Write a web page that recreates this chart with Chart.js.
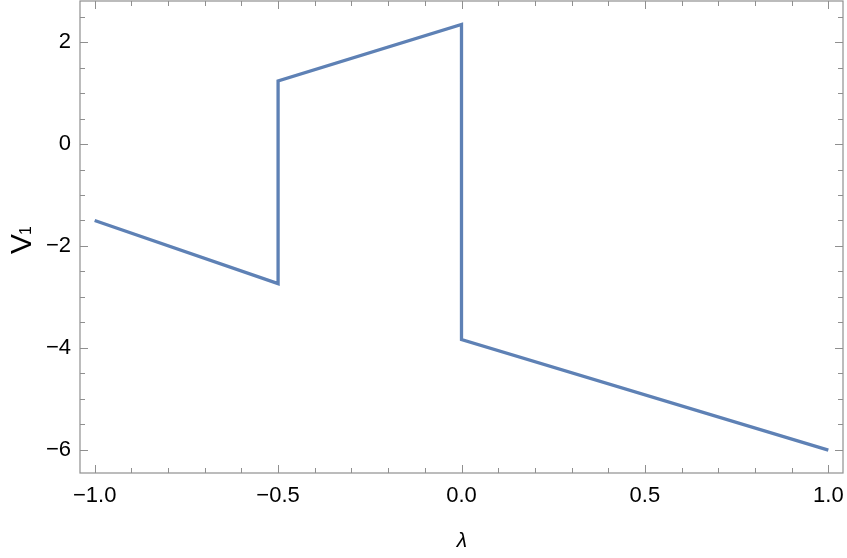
<!DOCTYPE html>
<html>
<head>
<meta charset="utf-8">
<script src="https://cdn.jsdelivr.net/npm/chart.js@4"></script>
<style>
  html, body { margin: 0; padding: 0; background: #fff; }
  #wrap { width: 847px; height: 558px; }
</style>
</head>
<body>
<div id="wrap"><canvas id="chart" width="847" height="558"></canvas></div>
<script>
// Piecewise curve V1(lambda)
const lambdaVals = [-1.0, -0.5, -0.5, 0.0, 0.0, 1.0];
const v1Vals = [-1.50, -2.74, 1.24, 2.35, -3.84, -6.01];

// Axes
const xTicks = [-1.0, -0.5, 0.0, 0.5, 1.0];
const yTicks = [-6, -4, -2, 0, 2];
const xRange = [-1.04, 1.04];
const yRange = [-6.46, 2.81];
const xMinorStep = 0.1;
const yMinorStep = 0.5;

const frameColor = "#8f8f8f";
const lineColor = "#5e81b5";
const font = "'Liberation Sans', Arial, sans-serif";

function fmt(v, digits) {
  const s = v.toFixed(digits);
  return v < 0 ? "\u2212" + s.slice(1) : s;
}

// Frame with inward ticks on all four sides, plus axis labels
const framePlugin = {
  id: "frame",
  afterDraw(chart) {
    const { ctx, chartArea: a, scales } = chart;
    const xs = scales.x, ys = scales.y;
    ctx.save();
    ctx.strokeStyle = frameColor;
    ctx.lineWidth = 1.2;
    ctx.strokeRect(a.left, a.top, a.right - a.left, a.bottom - a.top);

    const tick = (x1, y1, x2, y2) => {
      ctx.beginPath();
      ctx.moveTo(x1, y1);
      ctx.lineTo(x2, y2);
      ctx.stroke();
    };
    const isMajor = (v, list) => list.some(t => Math.abs(t - v) < 1e-6);

    ctx.lineWidth = 1;
    for (let i = Math.ceil(xRange[0] / xMinorStep); i * xMinorStep <= xRange[1] + 1e-9; i++) {
      const v = i * xMinorStep;
      const len = isMajor(v, xTicks) ? 8 : 5;
      const px = Math.round(xs.getPixelForValue(v)) + 0.5;
      tick(px, a.bottom, px, a.bottom - len);
      tick(px, a.top, px, a.top + len);
    }
    for (let i = Math.ceil(yRange[0] / yMinorStep); i * yMinorStep <= yRange[1] + 1e-9; i++) {
      const v = i * yMinorStep;
      const len = isMajor(v, yTicks) ? 8 : 5;
      const py = Math.round(ys.getPixelForValue(v)) + 0.5;
      tick(a.left, py, a.left + len, py);
      tick(a.right, py, a.right - len, py);
    }

    // x label
    ctx.fillStyle = "#000";
    ctx.font = "italic 21px " + font;
    ctx.textAlign = "center";
    ctx.textBaseline = "alphabetic";
    ctx.fillText("\u03bb", (a.left + a.right) / 2 + 0.5, 547);

    // y label V_1, rotated
    ctx.translate(31, 254);
    ctx.rotate(-Math.PI / 2);
    ctx.textAlign = "left";
    ctx.font = "30px " + font;
    ctx.fillText("V", 0, 0);
    const w = ctx.measureText("V").width;
    ctx.font = "16px " + font;
    ctx.fillText("1", w - 1, 0);
    ctx.restore();
  }
};

new Chart(document.getElementById("chart"), {
  type: "scatter",
  data: {
    datasets: [{
      data: lambdaVals.map((x, i) => ({ x: x, y: v1Vals[i] })),
      showLine: true,
      borderColor: lineColor,
      borderWidth: 3.3,
      pointRadius: 0,
      fill: false,
      tension: 0
    }]
  },
  options: {
    responsive: false,
    animation: false,
    layout: { padding: { top: 1, right: 4, left: 0, bottom: 0 } },
    plugins: { legend: { display: false }, tooltip: { enabled: false } },
    scales: {
      x: {
        type: "linear",
        min: xRange[0],
        max: xRange[1],
        grid: { display: false, drawTicks: false },
        border: { display: false },
        afterBuildTicks: s => { s.ticks = xTicks.map(v => ({ value: v })); },
        afterFit: s => {
          s.height = 85;
          s.paddingLeft = 0; s.paddingRight = 0;
          s.paddingTop = 0; s.paddingBottom = 0;
        },
        ticks: {
          padding: 10,
          color: "#000",
          font: { family: font, size: 22 },
          callback: v => fmt(v, 1)
        }
      },
      y: {
        type: "linear",
        min: yRange[0],
        max: yRange[1],
        grid: { display: false, drawTicks: false },
        border: { display: false },
        afterBuildTicks: s => { s.ticks = yTicks.map(v => ({ value: v })); },
        afterFit: s => {
          s.width = 80;
          s.paddingLeft = 0; s.paddingRight = 0;
          s.paddingTop = 0; s.paddingBottom = 0;
        },
        ticks: {
          padding: 9,
          color: "#000",
          font: { family: font, size: 22 },
          callback: v => fmt(v, 0)
        }
      }
    }
  },
  plugins: [framePlugin]
});
</script>
</body>
</html>
